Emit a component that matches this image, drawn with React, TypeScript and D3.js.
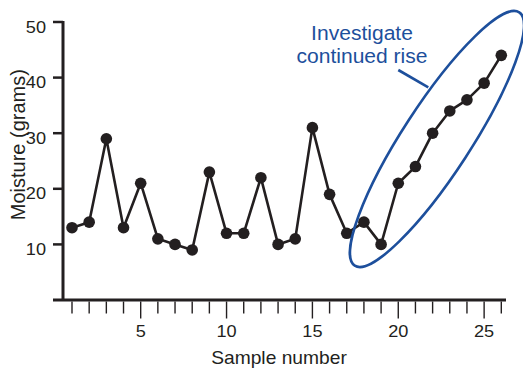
import React from "react";
import * as d3 from "d3";

// Moisture readings per sample
const sampleNumbers: number[] = Array.from({ length: 26 }, (_, i) => i + 1);
const moistureGrams: number[] = [
  13, 14, 29, 13, 21, 11, 10, 9, 23, 12, 12, 22, 10, 11, 31, 19, 12, 14, 10, 21,
  24, 30, 34, 36, 39, 44,
];
const yTicks: number[] = [10, 20, 30, 40, 50];
const xMajorTicks: number[] = [5, 10, 15, 20, 25];
const annotationLines: string[] = ["Investigate", "continued rise"];

const W = 523;
const H = 369;
const FONT = "'Liberation Sans', Arial, Helvetica, sans-serif";
const INK = "#231f20";
const BLUE = "#1d4f9c";
const SX = 1.08; // slightly wide lettering

type LabelProps = {
  x: number;
  y: number;
  size: number;
  anchor: "start" | "middle" | "end";
  fill: string;
  children: React.ReactNode;
};

function Label({ x, y, size, anchor, fill, children }: LabelProps) {
  return (
    <text
      transform={`translate(${x},${y}) scale(${SX},1)`}
      textAnchor={anchor}
      fontSize={size}
      fill={fill}
    >
      {children}
    </text>
  );
}

export default function App() {
  const x = d3.scaleLinear().domain([1, 26]).range([72, 501.3]);
  const y = d3.scaleLinear().domain([0, 50]).range([300, 22]);

  const line = d3
    .line<number>()
    .x((_, i) => x(sampleNumbers[i]))
    .y((d) => y(d));

  const axisX = 63;
  const axisY = y(0);

  return (
    <svg
      width={W}
      height={H}
      style={{ position: "fixed", left: 0, top: 0, background: "#fff" }}
      fontFamily={FONT}
    >
      {/* y axis */}
      <line x1={axisX} x2={axisX} y1={y(50) - 1} y2={axisY} stroke={INK} strokeWidth={3} />
      {yTicks.map((t) => (
        <g key={"yt" + t}>
          <line x1={53} x2={axisX} y1={y(t)} y2={y(t)} stroke={INK} strokeWidth={2.5} />
          <Label x={46} y={y(t) + 10.5} size={16.8} anchor="end" fill={INK}>
            {t}
          </Label>
        </g>
      ))}

      {/* x axis */}
      <line x1={53} x2={506} y1={axisY} y2={axisY} stroke={INK} strokeWidth={3} />
      {sampleNumbers.map((s) => {
        const major = xMajorTicks.includes(s);
        return (
          <line
            key={"xt" + s}
            x1={x(s)}
            x2={x(s)}
            y1={axisY + 1.5}
            y2={major ? 318.5 : 313.5}
            stroke={INK}
            strokeWidth={1.4}
          />
        );
      })}
      {xMajorTicks.map((t) => (
        <Label key={"xl" + t} x={x(t)} y={336.7} size={16.8} anchor="middle" fill={INK}>
          {t}
        </Label>
      ))}

      {/* axis titles */}
      <Label x={279} y={364.3} size={17.8} anchor="middle" fill={INK}>
        Sample number
      </Label>
      <text
        transform={`translate(25,144.7) rotate(-90)`}
        textAnchor="middle"
        fontSize={20}
        fill={INK}
      >
        Moisture (grams)
      </text>

      {/* series */}
      <path d={line(moistureGrams) || ""} fill="none" stroke={INK} strokeWidth={2.6} strokeLinejoin="round" />
      {moistureGrams.map((v, i) => (
        <circle key={"p" + i} cx={x(sampleNumbers[i])} cy={y(v)} r={5.8} fill={INK} />
      ))}

      {/* callout */}
      <ellipse
        cx={437}
        cy={139}
        rx={151}
        ry={34}
        transform="rotate(-57 437 139)"
        fill="none"
        stroke={BLUE}
        strokeWidth={2.6}
      />
      <line x1={398.3} y1={70} x2={428.3} y2={87.3} stroke={BLUE} strokeWidth={2.6} />
      {annotationLines.map((s, i) => (
        <Label key={"a" + i} x={362} y={39.5 + i * 23.7} size={19.5} anchor="middle" fill={BLUE}>
          {s}
        </Label>
      ))}
    </svg>
  );
}
